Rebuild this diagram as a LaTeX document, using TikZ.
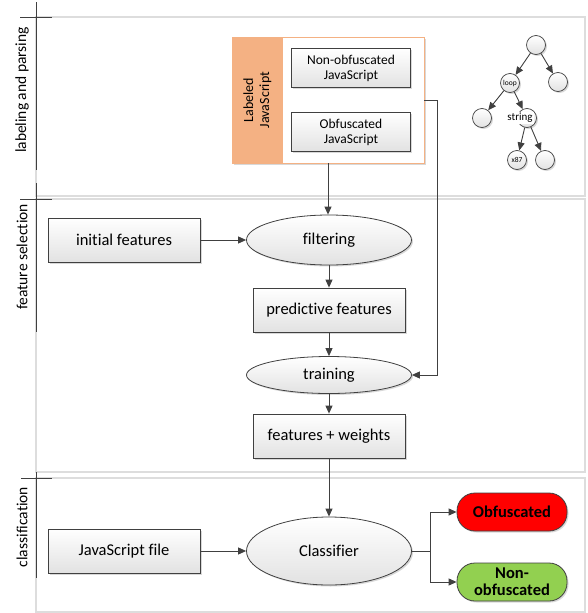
\documentclass[tikz,border=0pt]{standalone}
\usepackage{fontspec}
\setmainfont{Carlito}[Ligatures=NoCommon]
\usetikzlibrary{arrows.meta,shapes.geometric,shadows}

\definecolor{linegray}{HTML}{404040}
\definecolor{lanegray}{HTML}{DDDDDD}
\definecolor{boxgray}{HTML}{E2E2E2}
\definecolor{labelorange}{HTML}{F4B183}
\definecolor{obfred}{HTML}{FF0000}
\definecolor{nonobfgreen}{HTML}{92D050}

\tikzset{
  flow/.style={draw=linegray, line width=0.9pt, -{Triangle[length=8pt,width=7pt]}},
  lane/.style={draw=lanegray, line width=1.6pt},
  lanemark/.style={draw=linegray, line width=0.9pt},
  lanelabel/.style={rotate=90, font=\fontsize{15.5}{17}\selectfont},
  softshadow/.style={drop shadow={shadow xshift=1.5pt, shadow yshift=-1.5pt, fill=gray, opacity=0.3}},
  procbox/.style={draw=linegray, line width=0.8pt, top color=white, bottom color=boxgray,
    minimum width=152pt, minimum height=44pt, font=\fontsize{16.5}{18}\selectfont, softshadow},
  smallbox/.style={draw=linegray, line width=0.8pt, top color=white, bottom color=boxgray,
    minimum width=119pt, minimum height=39pt, align=center, inner sep=1pt,
    font=\fontsize{13.5}{15}\selectfont, softshadow},
  procell/.style={ellipse, draw=linegray, line width=0.8pt, top color=white, bottom color=boxgray,
    minimum width=165pt, font=\fontsize{16.5}{18}\selectfont, softshadow},
  result/.style={draw=linegray, line width=0.8pt, rounded corners=18pt, minimum width=110pt,
    minimum height=38pt, align=center, inner sep=1pt, font=\bfseries\fontsize{16.5}{17}\selectfont, softshadow},
  treenode/.style={circle, draw=linegray, line width=0.7pt, top color=white, bottom color=boxgray,
    minimum size=19pt, inner sep=0pt, font=\fontsize{7.5}{8}\selectfont, softshadow},
}

\begin{document}
\begin{tikzpicture}[x=1pt, y=-1pt]

    \useasboundingbox (0,0) rectangle (587,613);

    % lanes
    \draw[lane, fill=white] (36,17) rectangle (585,196);
    \draw[lane, fill=white] (36,199) rectangle (585,472);
    \draw[lane, fill=white] (36,478) rectangle (585,612);

    \draw[lanemark] (36,2) -- (36,170);
    \draw[lanemark] (20,17) -- (52,17);
    \draw[lanemark] (36,183) -- (36,332);
    \draw[lanemark] (20,199) -- (52,199);
    \draw[lanemark] (36,472) -- (36,578);
    \draw[lanemark] (21,478) -- (52,478);

    \node[lanelabel] (lanelabeling) at (22,90) {labeling and parsing};
    \node[lanelabel] (laneselection) at (22,257) {feature selection};
    \node[lanelabel] (laneclass) at (22,527) {classification};

    % labeled JavaScript
    \node[draw=labelorange, line width=0.8pt, fill=white, minimum width=192pt, minimum height=126pt,
          softshadow] (labeled) at (328,100) {};
    \fill[labelorange] (232.4,37.4) rectangle (283,162.6);
    \node[rotate=90, align=center, font=\fontsize{14}{16}\selectfont] (labeledtxt) at (257.5,100)
        {Labeled\\JavaScript};
    \node[smallbox] (nonobfjs) at (351,68) {Non-obfuscated\\JavaScript};
    \node[smallbox] (obfjs) at (351,132) {Obfuscated\\JavaScript};

    % syntax tree
    \node[treenode] (root) at (536,45) {};
    \node[treenode] (loop) at (510,83) {loop};
    \node[treenode] (rootright) at (558,82) {};
    \node[treenode] (loopleft) at (482,118) {};
    \node[treenode] (str) at (527,118) {};
    \node[treenode] (xeightyseven) at (517,160) {x87};
    \node[treenode] (strright) at (545,160) {};
    \node[fill=white, inner sep=1pt, font=\fontsize{11}{12}\selectfont] (strtxt) at (520,118) {string};

    \draw[flow] (root) -- (loop);
    \draw[flow] (root) -- (rootright);
    \draw[flow] (loop) -- (loopleft);
    \draw[flow] (loop) -- (str);
    \draw[flow] (str) -- (xeightyseven);
    \draw[flow] (str) -- (strright);

    % feature selection
    \node[procbox] (initial) at (124,240) {initial features};
    \node[procell, minimum height=50pt] (filtering) at (329,240) {filtering};
    \node[procbox] (predictive) at (329,310) {predictive features};
    \node[procell, minimum height=37pt] (training) at (329,375) {training};
    \node[procbox] (weights) at (329,436) {features + weights};

    \draw[flow] (initial) -- (filtering);
    \draw[flow] (labeled.south) -- (labeled.south |- filtering.north);
    \draw[flow] (filtering) -- (predictive);
    \draw[flow] (predictive) -- (training);
    \draw[flow] (training) -- (weights);
    \draw[flow] (labeled.east) -- ++(13,0) |- (training.east);

    % classification
    \node[procbox] (jsfile) at (124,551) {JavaScript file};
    \node[procell, minimum height=68pt] (classifier) at (329,551) {Classifier};
    \node[result, fill=obfred] (obf) at (512,512) {Obfuscated};
    \node[result, fill=nonobfgreen] (nonobf) at (512,582) {Non-\\obfuscated};

    \draw[flow] (weights) -- (classifier);
    \draw[flow] (jsfile) -- (classifier);
    \draw[draw=linegray, line width=0.9pt] (classifier.east) -- ++(19,0) coordinate (split);
    \draw[flow] (split) |- (obf.west);
    \draw[flow] (split) |- (nonobf.west);

\end{tikzpicture}
\end{document}
